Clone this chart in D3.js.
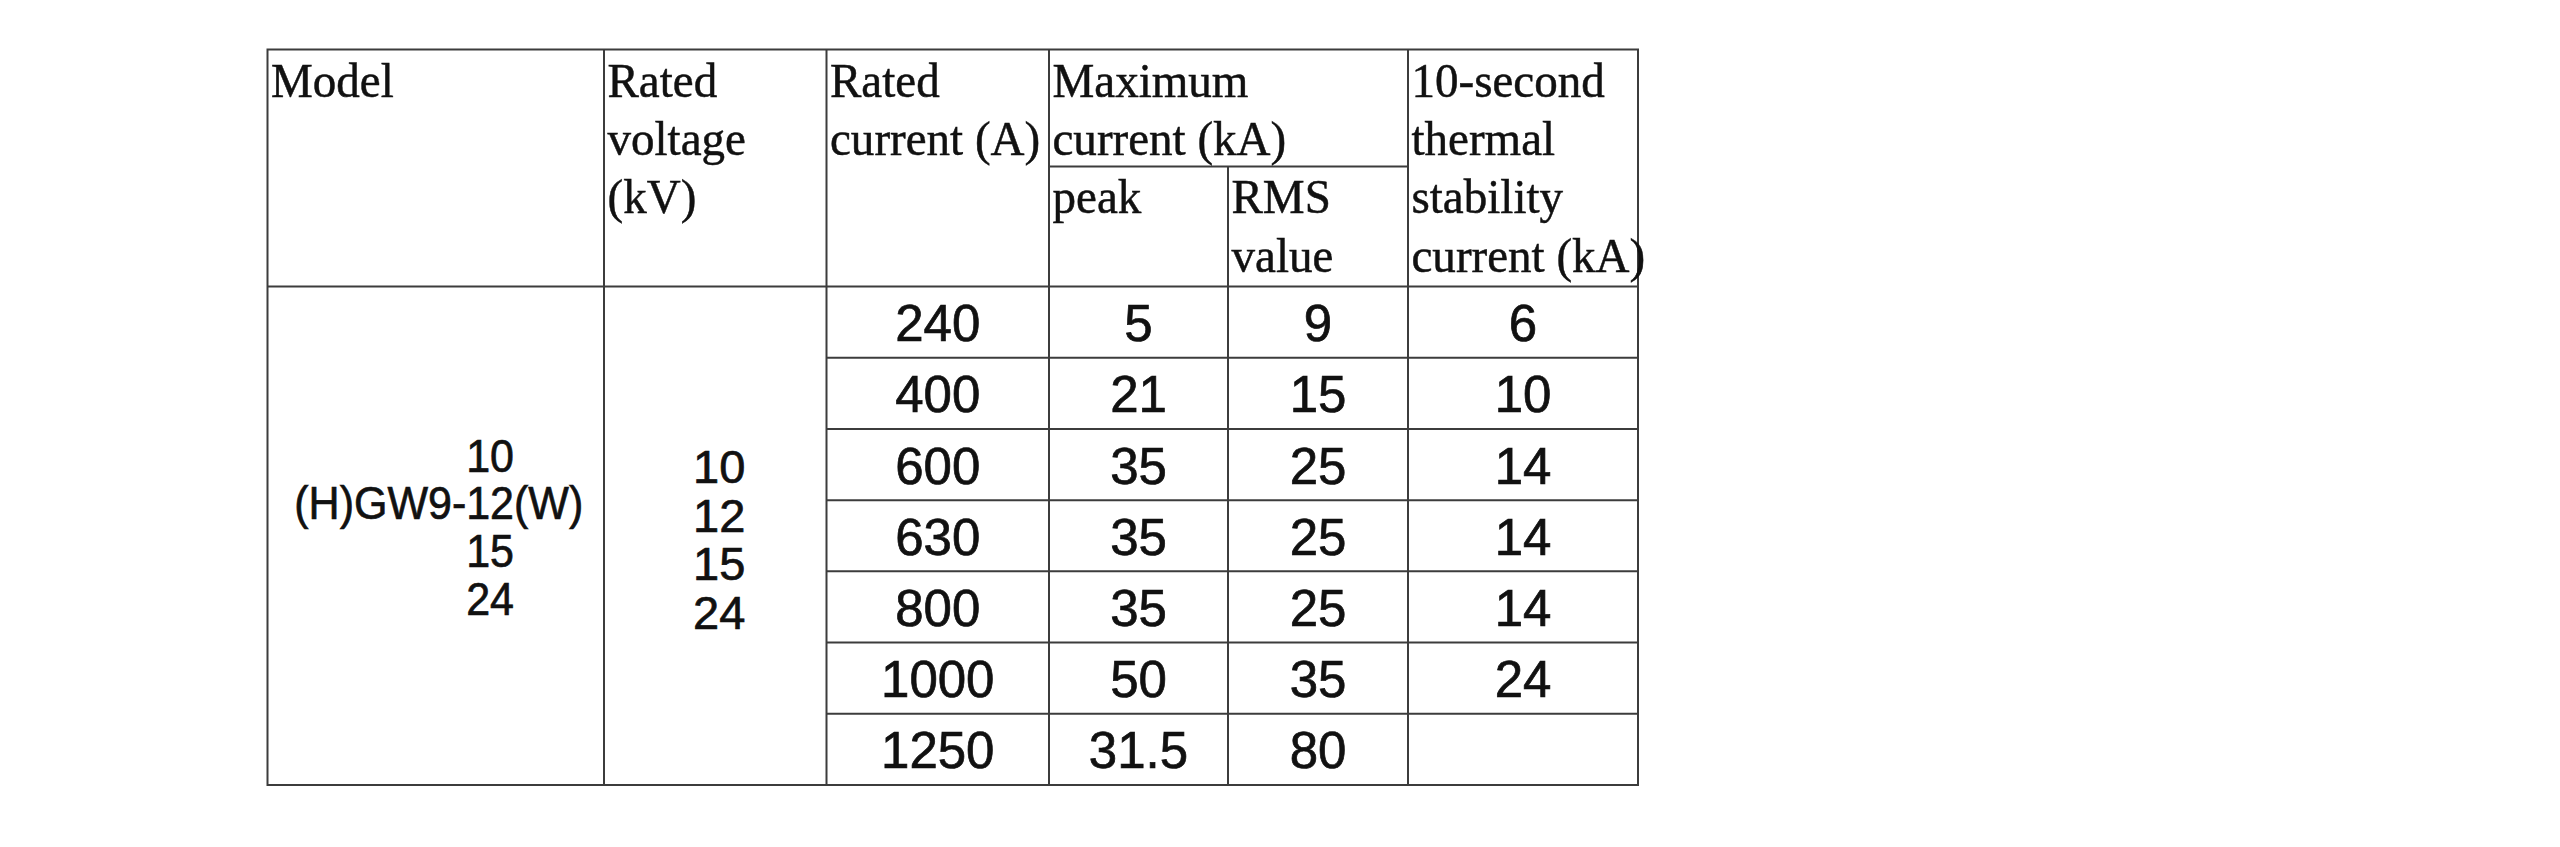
<!DOCTYPE html>
<html>
<head>
<meta charset="utf-8">
<script src="https://cdn.jsdelivr.net/npm/d3@7"></script>
<style>
  body { margin: 0; background: #ffffff; }
  svg { display: block; }
  .head { font-family: "Liberation Serif", "Times New Roman", serif; font-size: 49px; fill: #111; stroke: #111; stroke-width: 0.5px; }
  .cell { font-family: "Liberation Sans", Arial, sans-serif; fill: #111; stroke: #111; stroke-width: 0.7px; }
  .grid { stroke: #3c3c3c; stroke-width: 2; fill: none; }
</style>
</head>
<body>
<div id="chart"></div>
<script>
// table values
const ratedCurrent = [240, 400, 600, 630, 800, 1000, 1250];
const peakCurrent = [5, 21, 35, 35, 35, 50, 31.5];
const rmsCurrent = [9, 15, 25, 25, 25, 35, 80];
const thermalCurrent = [6, 10, 14, 14, 14, 24, null];

const modelPrefix = "(H)GW9-";
const modelSuffix = "(W)";
const modelVariants = ["10", "12", "15", "24"];
const ratedVoltages = ["10", "12", "15", "24"];

// header texts, one entry per header cell (line index where text starts)
const colKeys = ["model", "voltage", "current", "peak", "rms", "thermal"];
const headerCells = [
    {col: "model", first: 0, lines: ["Model"]},
    {col: "voltage", first: 0, lines: ["Rated", "voltage", "(kV)"]},
    {col: "current", first: 0, lines: ["Rated", "current (A)"]},
    {col: "peak", first: 0, lines: ["Maximum", "current (kA)"]},
    {col: "peak", first: 2, lines: ["peak"]},
    {col: "rms", first: 2, lines: ["RMS", "value"]},
    {col: "thermal", first: 0, lines: ["10-second", "thermal", "stability", "current (kA)"]}
];

const width = 2560, height = 847;
const tableLeft = 267.5, tableRight = 1638, tableTop = 49.5;
const subLineY = 166.5, headBottom = 286.5, tableBottom = 785;

const svg = d3.select("#chart").append("svg")
    .attr("width", width)
    .attr("height", height);

// column left edges
const colX = d3.scaleOrdinal()
    .domain(colKeys)
    .range([tableLeft, 604, 826.5, 1049, 1228, 1408]);
const colRight = k => {
    const i = colKeys.indexOf(k);
    return i < colKeys.length - 1 ? colX(colKeys[i + 1]) : tableRight;
};
const colMid = k => (colX(k) + colRight(k)) / 2;

// data rows
const rowY = d3.scaleBand()
    .domain(d3.range(ratedCurrent.length))
    .range([headBottom, tableBottom]);

// header text baselines
const headLineY = d3.scaleLinear().domain([0, 1]).range([96.7, 155]);

// ---- grid lines
const g = svg.append("g").attr("class", "grid");
g.append("rect")
    .attr("x", tableLeft).attr("y", tableTop)
    .attr("width", tableRight - tableLeft).attr("height", tableBottom - tableTop);

["voltage", "current", "peak", "thermal"].forEach(k => {
    g.append("line")
        .attr("x1", colX(k)).attr("x2", colX(k))
        .attr("y1", tableTop).attr("y2", tableBottom);
});
g.append("line")
    .attr("x1", colX("rms")).attr("x2", colX("rms"))
    .attr("y1", subLineY).attr("y2", tableBottom);
g.append("line")
    .attr("x1", colX("peak")).attr("x2", colX("thermal"))
    .attr("y1", subLineY).attr("y2", subLineY);
g.append("line")
    .attr("x1", tableLeft).attr("x2", tableRight)
    .attr("y1", headBottom).attr("y2", headBottom);

g.selectAll("line.row")
    .data(d3.range(1, ratedCurrent.length))
    .enter().append("line")
    .attr("class", "row")
    .attr("x1", colX("current")).attr("x2", tableRight)
    .attr("y1", d => rowY(d)).attr("y2", d => rowY(d));

// ---- header texts
headerCells.forEach(h => {
    svg.selectAll(null)
        .data(h.lines)
        .enter().append("text")
        .attr("class", "head")
        .attr("transform", (d, i) => `translate(${colX(h.col) + 3.5},${headLineY(h.first + i)}) scale(0.96,1)`)
        .text(d => d);
});

// ---- data cells
const dataCols = [
    {col: "current", values: ratedCurrent},
    {col: "peak", values: peakCurrent},
    {col: "rms", values: rmsCurrent},
    {col: "thermal", values: thermalCurrent}
];
dataCols.forEach(c => {
    svg.selectAll(null)
        .data(c.values.filter(v => v !== null).map((v, i) => ({v, i})))
        .enter().append("text")
        .attr("class", "cell")
        .attr("font-size", 51)
        .attr("text-anchor", "middle")
        .attr("x", colMid(c.col))
        .attr("y", d => rowY(d.i) + rowY.bandwidth() / 2 + 19)
        .text(d => d.v);
});

// ---- merged model cell
const modelY = d3.scaleLinear().domain([0, modelVariants.length - 1]).range([471.7, 615]);
const mg = svg.append("g")
    .attr("transform", `translate(${colMid("model") + 3},0) scale(0.915,1)`);
const mid = mg.append("text")
    .attr("class", "cell")
    .attr("font-size", 47)
    .attr("text-anchor", "middle")
    .attr("x", 0)
    .attr("y", modelY(1))
    .text(modelPrefix + modelVariants[1] + modelSuffix);
const n = mid.node();
const numStart = n.getStartPositionOfChar(modelPrefix.length).x;
const numLen = n.getSubStringLength(modelPrefix.length, modelVariants[1].length);
const stackX = numStart + numLen / 2;
mg.selectAll(null)
    .data(modelVariants.map((v, i) => ({v, i})).filter(d => d.i !== 1))
    .enter().append("text")
    .attr("class", "cell")
    .attr("font-size", 47)
    .attr("text-anchor", "middle")
    .attr("x", stackX)
    .attr("y", d => modelY(d.i))
    .text(d => d.v);

// ---- merged voltage cell
const voltY = d3.scaleLinear().domain([0, ratedVoltages.length - 1]).range([483, 629]);
svg.selectAll(null)
    .data(ratedVoltages)
    .enter().append("text")
    .attr("class", "cell")
    .attr("font-size", 47)
    .attr("text-anchor", "middle")
    .attr("x", colMid("voltage") + 4)
    .attr("y", (d, i) => voltY(i))
    .text(d => d);
</script>
</body>
</html>
